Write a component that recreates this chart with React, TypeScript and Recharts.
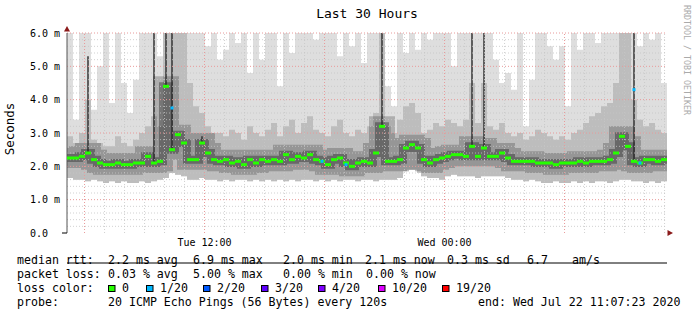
import React from 'react';
import { ComposedChart, Area, Line, Bar, XAxis, YAxis, ReferenceLine } from 'recharts';

// 100 columns of 18 min each, Tue 05:07 -> Wed 11:07 (values in ms)
const median = [
    2.25, 2.25, 2.3, 2.4, 2.2, 2.1, 2.05, 2.05, 2.1, 2.05,
    2.05, 2.1, 2.1, 2.3, 2.1, 2.15, 4.4, 2.5, 2.95, 2.7,
    2.2, 2.2, 2.7, 2.4, 2.2, 2.15, 2.2, 2.1, 2.15, 2.05,
    2.2, 2.1, 2.2, 2.15, 2.2, 2.15, 2.35, 2.2, 2.3, 2.25,
    2.35, 2.2, 2.15, 2.05, 2.2, 2.25, 2.1, 2.0, 2.1, 2.15,
    2.1, 2.4, 3.2, 2.15, 2.15, 2.2, 2.55, 2.65, 2.55, 2.2,
    2.1, 2.2, 2.25, 2.3, 2.35, 2.35, 2.3, 2.6, 2.3, 2.55,
    2.3, 2.3, 2.4, 2.25, 2.15, 2.15, 2.15, 2.15, 2.1, 2.1,
    2.1, 2.05, 2.1, 2.1, 2.1, 2.15, 2.1, 2.15, 2.15, 2.15,
    2.2, 2.4, 2.9, 2.6, 2.15, 2.1, 2.2, 2.2, 2.15, 2.2,
];

// bottom edge of the smoke
const smokeLow = [
    1.65, 1.6, 1.6, 1.55, 1.6, 1.55, 1.5, 1.55, 1.5, 1.55,
    1.5, 1.5, 1.55, 1.5, 1.55, 1.6, 1.65, 1.8, 1.75, 1.7,
    1.6, 1.6, 1.65, 1.6, 1.6, 1.55, 1.6, 1.55, 1.6, 1.6,
    1.55, 1.6, 1.55, 1.6, 1.55, 1.6, 1.55, 1.6, 1.55, 1.6,
    1.6, 1.55, 1.6, 1.55, 1.6, 1.55, 1.6, 1.6, 1.55, 1.6,
    1.6, 1.55, 1.6, 1.6, 1.6, 1.65, 1.85, 1.9, 1.85, 1.7,
    1.65, 1.65, 1.6, 1.7, 1.75, 1.7, 1.7, 1.7, 1.65, 1.7,
    1.7, 1.7, 1.7, 1.65, 1.6, 1.6, 1.55, 1.6, 1.55, 1.5,
    1.5, 1.55, 1.5, 1.5, 1.55, 1.5, 1.55, 1.5, 1.55, 1.55,
    1.5, 1.55, 1.6, 1.6, 1.55, 1.55, 1.5, 1.55, 1.5, 1.55,
];

// top of the denser (mid grey) smoke
const smokeMid = [
    2.9, 2.7, 3.0, 4.0, 2.8, 2.7, 2.6, 2.6, 2.9, 2.7,
    2.6, 2.8, 3.0, 3.2, 3.5, 3.2, 6, 6, 6, 6,
    4.5, 3.8, 3.6, 3.2, 3.0, 3.0, 2.9, 3.1, 3.0, 2.8,
    3.2, 3.0, 2.9, 3.1, 3.3, 2.9, 3.2, 3.4, 3.0, 3.3,
    3.5, 3.1, 3.0, 2.9, 3.2, 3.4, 3.0, 2.9, 3.1, 3.0,
    3.2, 3.6, 6, 3.2, 3.0, 3.4, 3.8, 3.9, 3.6, 3.0,
    3.1, 3.3, 3.2, 3.4, 3.3, 3.2, 3.4, 4.5, 3.3, 4.5,
    3.2, 3.1, 3.3, 3.0, 2.9, 3.0, 2.8, 2.9, 3.1, 3.0,
    2.9, 2.8, 2.9, 2.8, 3.0, 3.1, 3.3, 3.5, 3.6, 3.8,
    3.9, 4.5, 6, 6, 4.0, 3.4, 3.2, 3.3, 3.1, 3.0,
];

// top of the light smoke (6 = clipped at the top)
const smokeTop = [
    6, 3.4, 6, 6, 3.7, 5.0, 6, 3.9, 6, 4.5,
    3.6, 4.6, 6, 6, 6, 5.3, 6, 6, 6, 6,
    6, 6, 6, 5.6, 6, 5.2, 5.5, 6, 5.7, 6,
    4.8, 6, 5.2, 6, 6, 4.4, 6, 5.4, 6, 6,
    6, 5.8, 6, 6, 6, 5.3, 6, 5.6, 6, 5.1,
    6, 6, 6, 4.4, 3.8, 6, 5.4, 6, 5.5, 6,
    5.8, 6, 6, 6, 5.0, 6, 6, 6, 6, 6,
    6, 5.2, 4.5, 4.8, 4.3, 6, 3.2, 4.6, 6, 6,
    5.6, 5.2, 5.6, 3.8, 6, 5.5, 6, 6, 5.7, 6,
    6, 6, 6, 6, 6, 5.6, 6, 5.8, 6, 4.5,
];

// dark streaks of single slow pings
const streakTop = [
    null, null, null, 5.3, null, null, null, null, null, null,
    null, null, null, null, 6, null, 6, 6, null, null,
    null, null, 2.9, null, null, null, null, null, null, null,
    null, null, null, null, null, null, null, null, null, null,
    null, null, null, null, null, null, null, null, null, null,
    null, null, 6, null, null, null, null, null, null, null,
    null, null, null, null, null, null, null, 6, null, 6,
    null, null, null, null, null, null, null, null, null, null,
    null, null, null, null, null, null, null, null, null, null,
    null, null, null, null, 6, null, null, null, null, null,
];

// medians of rounds that lost 1/20
const lossMedian = [
    null, null, null, null, null, null, null, null, null, null,
    null, null, null, null, null, null, null, 3.75, null, null,
    null, null, null, null, null, null, null, null, null, null,
    null, null, null, null, null, null, null, null, null, null,
    null, null, 2.15, null, null, null, 2.05, null, null, null,
    null, null, null, null, null, null, null, null, null, null,
    null, null, null, null, null, null, null, null, null, null,
    null, null, null, null, null, null, null, null, null, null,
    null, null, null, null, null, null, null, null, null, null,
    null, null, null, null, 4.3, 2.1, null, null, null, null,
];

const timeTicks = [6.877, 18.877];
const timeLabels = ['Tue 12:00', 'Wed 00:00'];
const valueTicks = [0, 1, 2, 3, 4, 5, 6];
const valueLabels = ['0.0', '1.0 m', '2.0 m', '3.0 m', '4.0 m', '5.0 m', '6.0 m'];

const lossColors = ['#26ff00', '#00b8ff', '#0059ff', '#5e00ff', '#7e00ff', '#dd00ff', '#ff0000'];
const lossLabels = ['0', '1/20', '2/20', '3/20', '4/20', '10/20', '19/20'];

const COL_H = 0.3;
const rows: any[] = median.map((m, i) => ({
    t: i * COL_H,
    tc: i * COL_H + COL_H / 2,
    median: m,
    dotMedian: m,
    low: smokeLow[i],
    mid: smokeMid[i],
    top: smokeTop[i],
    streak: streakTop[i],
    loss: lossMedian[i],
}));
// closing row so the last step column reaches the right edge
rows.push({ ...rows[rows.length - 1], t: 30, tc: 30.15, dotMedian: null, streak: null, loss: null });

// grid: every hour (first full hour is 06:00), major every 6 hours
const hourGrid = Array.from({ length: 30 }, (_, k) => 0.877 + k);
const valueGrid = Array.from({ length: 30 }, (_, k) => (k + 1) * 0.2);

const mono = '"DejaVu Sans Mono", monospace';
const W = 697;
const H = 315;

const legendRows: [number, string][][] = [
    [[17, 'median rtt:'], [108, '2.2 ms avg'], [193, '6.9 ms max'], [283, '2.0 ms min'], [365, '2.1 ms now'], [447, '0.3 ms sd'], [527, '6.7'], [572, 'am/s']],
    [[17, 'packet loss:'], [108, '0.03 % avg'], [193, '5.00 % max'], [283, '0.00 % min'], [366, '0.00 % now']],
    [[17, 'loss color:']],
    [[17, 'probe:'], [108, '20 ICMP Echo Pings (56 Bytes) every 120s'], [478, 'end: Wed Jul 22 11:07:23 2020']],
];
const legendBase = [264, 278, 292, 306];
const swatchX = [108, 146, 203, 261, 318, 378, 442];

const MedianDot = (p: any) => {
    if (p.value == null || p.cy == null || isNaN(p.cy)) return <g key={p.index} />;
    return <rect key={p.index} x={p.cx - 3} y={p.cy - 1.5} width={6} height={3} fill="#26ff00" />;
};

const LossDot = (p: any) => {
    if (p.value == null || p.cy == null || isNaN(p.cy)) return <g key={p.index} />;
    return <rect key={p.index} x={p.cx - 1.5} y={p.cy - 1.5} width={3} height={3} fill="#00b8ff" />;
};

export default function App() {
    return (
        <div style={{ position: 'absolute', left: 0, top: 0, width: W, height: H, background: '#fff' }}>
            <ComposedChart width={W} height={H} data={rows} margin={{ top: 33, right: 30, bottom: 0, left: 0 }}>
                <XAxis
                    xAxisId="t"
                    dataKey="t"
                    type="number"
                    domain={[0, 30]}
                    allowDataOverflow
                    ticks={timeTicks}
                    height={82}
                    axisLine={{ stroke: '#000' }}
                    tickLine={false}
                    tick={(p: any) => (
                        <text x={p.x} y={246} textAnchor="middle" fontSize={10} fontFamily={mono} fill="#000">
                            {timeLabels[p.index]}
                        </text>
                    )}
                />
                <XAxis xAxisId="c" dataKey="tc" type="number" domain={[0, 30]} allowDataOverflow hide />
                <YAxis
                    type="number"
                    domain={[0, 6]}
                    allowDataOverflow
                    ticks={valueTicks}
                    width={67}
                    axisLine={{ stroke: '#555' }}
                    tickLine={false}
                    tick={(p: any) => (
                        <text x={30} y={p.y + 3.7} textAnchor="start" fontSize={10} fontFamily={mono} fill="#000">
                            {valueLabels[p.index]}
                        </text>
                    )}
                />

                <Area xAxisId="t" type="stepAfter" dataKey={(d: any) => [d.low, d.top]} fill="#dedede" fillOpacity={1} stroke="none" isAnimationActive={false} />
                <Area xAxisId="t" type="stepAfter" dataKey={(d: any) => [d.low, d.mid]} fill="#bdbdbd" fillOpacity={1} stroke="none" isAnimationActive={false} />
                <Line xAxisId="t" type="stepAfter" dataKey="median" stroke="#333" strokeOpacity={0.28} strokeWidth={20} dot={false} isAnimationActive={false} />
                <Line xAxisId="t" type="stepAfter" dataKey="median" stroke="#222" strokeOpacity={0.4} strokeWidth={8} dot={false} isAnimationActive={false} />
                <Bar xAxisId="c" dataKey={(d: any) => (d.streak == null ? null : [d.median, d.streak])} barSize={2} fill="#333" fillOpacity={0.75} isAnimationActive={false} />

                {valueGrid.map((v, k) => (
                    <ReferenceLine key={'h' + k} xAxisId="t" y={v} stroke={(k + 1) % 5 === 0 ? '#e89a9a' : '#c6c6c6'} strokeOpacity={(k + 1) % 5 === 0 ? 1 : 0.8} strokeDasharray="1 2" />
                ))}
                {hourGrid.map((h, k) => (
                    <ReferenceLine key={'v' + k} xAxisId="t" x={h} stroke={k % 6 === 0 ? '#e89a9a' : '#c6c6c6'} strokeOpacity={k % 6 === 0 ? 1 : 0.8} strokeDasharray="1 2" />
                ))}

                <Line xAxisId="c" dataKey="dotMedian" stroke="none" dot={MedianDot} activeDot={false} isAnimationActive={false} />
                <Line xAxisId="c" dataKey="loss" stroke="none" dot={LossDot} activeDot={false} isAnimationActive={false} />
            </ComposedChart>

            <svg width={W} height={H} style={{ position: 'absolute', left: 0, top: 0, pointerEvents: 'none' }}>
                <text x={367} y={18} textAnchor="middle" fontSize={13} fontFamily={mono} fill="#000">Last 30 Hours</text>
                <text transform="translate(14,129) rotate(-90)" textAnchor="middle" fontSize={12.5} fontFamily={mono} fill="#000">Seconds</text>
                <text transform="translate(684,5) rotate(90)" fontSize={8.3} fontFamily={mono} fill="#aaa">RRDTOOL / TOBI OETIKER</text>
                <polygon points="67,26 64,31.5 70,31.5" fill="#8b1a1a" />
                <polygon points="673,233 667.5,230 667.5,236" fill="#8b1a1a" />
                <line x1={62} y1={233} x2={67} y2={233} stroke="#000" />

                {legendRows.map((row, r) =>
                    row.map(([x, s], j) => (
                        <text key={r + '-' + j} x={x} y={legendBase[r]} fontSize={11.6} fontFamily={mono} fill="#000" style={{ whiteSpace: 'pre' }}>
                            {s}
                        </text>
                    ))
                )}
                {swatchX.map((x, k) => (
                    <g key={'sw' + k}>
                        <rect x={x + 0.5} y={285.5} width={6.5} height={6} fill={lossColors[k]} stroke="#000" strokeWidth={1} />
                        <text x={x + 14} y={legendBase[2]} fontSize={11.6} fontFamily={mono} fill="#000">{lossLabels[k]}</text>
                    </g>
                ))}
            </svg>
        </div>
    );
}
